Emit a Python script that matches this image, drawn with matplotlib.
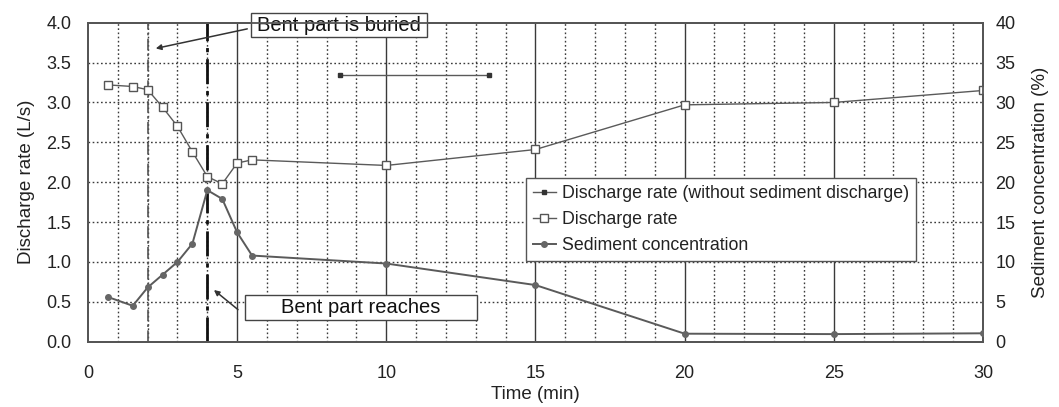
import numpy as np
import matplotlib
matplotlib.use('Agg')
import matplotlib.pyplot as plt
from matplotlib.patches import Rectangle

plt.rcParams['font.family'] = ['Liberation Sans', 'DejaVu Sans']

# discharge rate (open squares)
t_q = [0.67, 1.5, 2.0, 2.5, 3.0, 3.5, 4.0, 4.5, 5.0, 5.5, 10, 15, 20, 25, 30]
q = [3.22, 3.20, 3.16, 2.94, 2.70, 2.38, 2.07, 1.98, 2.24, 2.28, 2.21, 2.41, 2.97, 3.00, 3.15]

# discharge rate without sediment discharge (filled squares)
t_q0 = [8.45, 13.45]
q0 = [3.35, 3.35]

# sediment concentration (%)
t_c = [0.67, 1.5, 2.0, 2.5, 3.0, 3.5, 4.0, 4.5, 5.0, 5.5, 10, 15, 20, 25, 30]
c = [5.6, 4.5, 6.8, 8.4, 10.0, 12.3, 19.0, 17.9, 13.7, 10.8, 9.8, 7.1, 1.0, 0.95, 1.05]

x_major = [0, 5, 10, 15, 20, 25, 30]
y_left = [0.0, 0.5, 1.0, 1.5, 2.0, 2.5, 3.0, 3.5, 4.0]
y_right = [0, 5, 10, 15, 20, 25, 30, 35, 40]

line_col = '#5a5a5a'
grid_col = '#3a3a3a'

fig = plt.figure(figsize=(10.59, 4.07), dpi=100)
ax = fig.add_axes([0.0831, 0.1605, 0.8451, 0.7837])
ax2 = ax.twinx()

ax.set_xlim(0, 30)
ax.set_ylim(0, 4)
ax2.set_ylim(0, 40)

# grid
for xv in range(1, 30):
    if xv % 5 == 0:
        ax.axvline(xv, color=grid_col, lw=1.0, zorder=1)
    else:
        ax.axvline(xv, color=grid_col, lw=1.0, ls=(0, (1.2, 1.8)), zorder=1)
for yv in y_left[1:-1]:
    ax.axhline(yv, color=grid_col, lw=1.0, ls=(0, (1.2, 1.8)), zorder=1)

# event lines
ax.axvline(2, color='#555555', lw=1.2, ls=(0, (7, 2, 1.5, 2)), zorder=2)
ax.axvline(4, color='#111111', lw=2.0, ls=(0, (9, 2.5, 1.5, 2.5)), zorder=2)

h1, = ax.plot(t_q0, q0, color=line_col, lw=1.0, marker='s', ms=3.5,
              mfc='#333333', mec='#333333', zorder=4)
h2, = ax.plot(t_q, q, color=line_col, lw=1.0, marker='s', ms=5.2,
              mfc='white', mec='#555555', mew=1.0, zorder=4)
h3, = ax2.plot(t_c, c, color=line_col, lw=1.4, marker='o', ms=4,
               mfc='#666666', mec='#666666', zorder=4)

ax.set_xticks(x_major)
ax.set_yticks(y_left)
ax.set_yticklabels(['%.1f' % v for v in y_left])
ax2.set_yticks(y_right)
ax.tick_params(length=0, labelsize=13, colors='#222222')
ax.tick_params(axis='x', pad=17)
ax.tick_params(axis='y', pad=12)
ax2.tick_params(length=0, labelsize=13, colors='#222222', pad=9)

for a in (ax, ax2):
    for s in a.spines.values():
        s.set_color('#555555')
        s.set_linewidth(1.3)

ax.set_xlabel('Time (min)', fontsize=13.5, color='#222222', labelpad=3)
ax.set_ylabel('Discharge rate (L/s)', fontsize=13.5, color='#222222', labelpad=8)
ax2.set_ylabel('Sediment concentration (%)', fontsize=13.5, color='#222222', labelpad=12)

# annotations
ax.add_patch(Rectangle((5.45, 3.82), 5.92, 0.30, facecolor='white',
                       edgecolor='#444444', lw=1.0, clip_on=False, zorder=6))
ax.text(8.41, 3.97, 'Bent part is buried', fontsize=14.5, ha='center',
        va='center', color='#111111', zorder=7)
ax.annotate('', xy=(2.18, 3.67), xytext=(5.43, 3.93),
            arrowprops=dict(arrowstyle='-|>', color='#333333', lw=1.1,
                            mutation_scale=8), zorder=6)

ax.add_patch(Rectangle((5.26, 0.27), 7.77, 0.31, facecolor='white',
                       edgecolor='#444444', lw=1.0, zorder=6))
ax.text(9.14, 0.425, 'Bent part reaches', fontsize=14.5, ha='center',
        va='center', color='#111111', zorder=7)
ax.annotate('', xy=(4.15, 0.67), xytext=(5.10, 0.38),
            arrowprops=dict(arrowstyle='-|>', color='#333333', lw=1.1,
                            mutation_scale=8), zorder=6)

leg = ax2.legend([h1, h2, h3],
                 ['Discharge rate (without sediment discharge)',
                  'Discharge rate', 'Sediment concentration'],
                 loc='upper left', bbox_to_anchor=(0.489, 0.512),
                 fontsize=12.8, frameon=True, fancybox=False,
                 edgecolor='#555555', framealpha=1, handlelength=1.3,
                 handletextpad=0.35, labelspacing=0.5, borderpad=0.4,
                 borderaxespad=0)
leg.get_frame().set_linewidth(1.0)
for txt in leg.get_texts():
    txt.set_color('#222222')

fig.savefig('out.png', dpi=100)
